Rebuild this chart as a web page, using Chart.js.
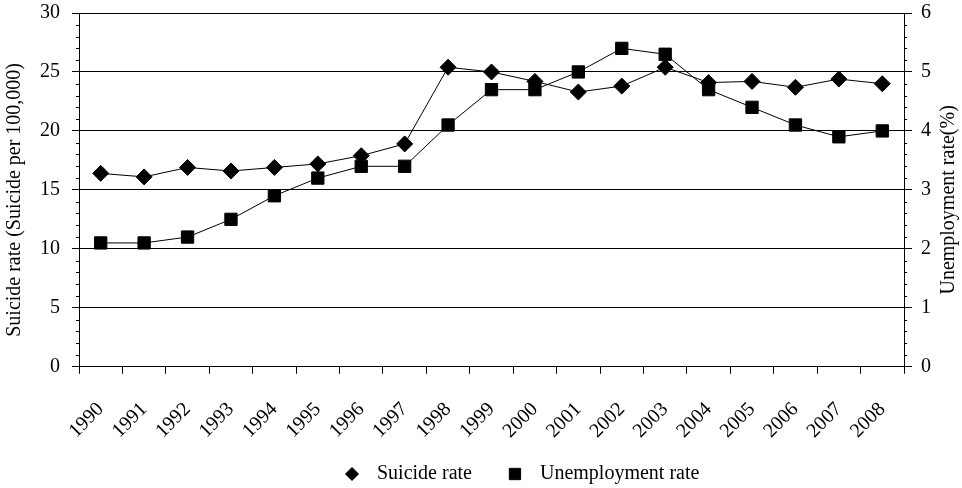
<!DOCTYPE html>
<html>
<head>
<meta charset="utf-8">
<script src="https://cdn.jsdelivr.net/npm/chart.js@4.4.1/dist/chart.umd.min.js"></script>
<style>
  html, body { margin: 0; padding: 0; background: #fff; }
  #wrap { width: 962px; height: 488px; position: relative; }
</style>
</head>
<body>
<div id="wrap"><canvas id="c"></canvas></div>
<script>
const years = ['1990','1991','1992','1993','1994','1995','1996','1997','1998','1999','2000','2001','2002','2003','2004','2005','2006','2007','2008'];
const suicideRate = [16.4, 16.1, 16.9, 16.6, 16.9, 17.2, 17.9, 18.9, 25.4, 25.0, 24.2, 23.3, 23.8, 25.4, 24.1, 24.2, 23.7, 24.4, 24.0];
const unemploymentRate = [2.1, 2.1, 2.2, 2.5, 2.9, 3.2, 3.4, 3.4, 4.1, 4.7, 4.7, 5.0, 5.4, 5.3, 4.7, 4.4, 4.1, 3.9, 4.0];
const seriesLabels = ['Suicide rate', 'Unemployment rate'];
const leftAxisTitle = 'Suicide rate (Suicide per 100,000)';
const rightAxisTitle = 'Unemployment rate(%)';

const FONT = '"Liberation Serif", "Times New Roman", serif';

const minorTicks = {
  id: 'minorTicks',
  afterDraw(chart) {
    const ctx = chart.ctx;
    const y = chart.scales.y, y1 = chart.scales.y1;
    ctx.save();
    ctx.strokeStyle = '#000';
    ctx.lineWidth = 1;
    ctx.beginPath();
    for (let v = y.min; v <= y.max; v += 1) {
      if (v % 5 === 0) continue;
      const p = Math.round(y.getPixelForValue(v)) + 0.5;
      ctx.moveTo(y.right - 3, p); ctx.lineTo(y.right, p);
    }
    for (let i = 0; i <= 30; i++) {
      if (i % 5 === 0) continue;
      const p = Math.round(y1.getPixelForValue(i * 0.2)) + 0.5;
      ctx.moveTo(y1.left, p); ctx.lineTo(y1.left + 3, p);
    }
    ctx.stroke();
    ctx.restore();
  }
};

const axisTitles = {
  id: 'axisTitles',
  afterDraw(chart) {
    const ctx = chart.ctx;
    const a = chart.chartArea;
    const cy = (a.top + a.bottom) / 2 + 10;
    ctx.save();
    ctx.font = '20px ' + FONT;
    ctx.fillStyle = '#000';
    ctx.textAlign = 'center';
    ctx.textBaseline = 'middle';
    [[15, leftAxisTitle], [chart.width - 13, rightAxisTitle]].forEach(([x, t]) => {
      ctx.save();
      ctx.translate(x, cy);
      ctx.rotate(-Math.PI / 2);
      ctx.fillText(t, 0, 0);
      ctx.restore();
    });
    ctx.restore();
  }
};

const customLegend = {
  id: 'customLegend',
  afterDraw(chart) {
    const ctx = chart.ctx;
    ctx.save();
    ctx.font = '20px ' + FONT;
    ctx.textBaseline = 'middle';
    ctx.textAlign = 'left';
    const cy = 474;
    let x = 352;
    chart.data.datasets.forEach((ds) => {
      ctx.fillStyle = '#000';
      ctx.strokeStyle = '#000';
      Chart.helpers.drawPoint(ctx, {
        pointStyle: ds.pointStyle,
        radius: ds.pointStyle === 'rectRot' ? 6.5 : 8,
        borderWidth: 1,
        rotation: 0
      }, x, cy);
      const tx = x + 25;
      ctx.fillStyle = '#000';
      ctx.fillText(ds.label, tx, cy);
      x = tx + ctx.measureText(ds.label).width + 43;
    });
    ctx.restore();
  }
};

function fixVertical(width) {
  return function (scale) {
    scale.width = width;
    scale.paddingTop = 0;
    scale.paddingBottom = 0;
  };
}

new Chart(document.getElementById('c'), {
  type: 'line',
  data: {
    labels: years,
    datasets: [
      {
        label: seriesLabels[0],
        data: suicideRate,
        yAxisID: 'y',
        borderColor: '#000',
        backgroundColor: '#000',
        borderWidth: 1,
        pointStyle: 'rectRot',
        pointRadius: 8,
        pointHoverRadius: 8,
        pointBorderWidth: 1,
        pointBackgroundColor: '#000',
        pointBorderColor: '#000',
        tension: 0
      },
      {
        label: seriesLabels[1],
        data: unemploymentRate,
        yAxisID: 'y1',
        borderColor: '#000',
        backgroundColor: '#000',
        borderWidth: 1,
        pointStyle: 'rect',
        pointRadius: 8.7,
        pointHoverRadius: 8.7,
        pointBorderWidth: 1,
        pointBackgroundColor: '#000',
        pointBorderColor: '#000',
        tension: 0
      }
    ]
  },
  options: {
    responsive: true,
    maintainAspectRatio: false,
    animation: false,
    layout: { padding: { left: 0, right: 0, top: 13, bottom: 21 } },
    plugins: {
      legend: { display: false },
      tooltip: { enabled: false }
    },
    scales: {
      x: {
        offset: true,
        grid: { display: true, drawOnChartArea: false, drawTicks: true, tickLength: 7, color: '#000', offset: true },
        border: { display: true, color: '#000', width: 1 },
        ticks: { autoSkip: false, maxRotation: 45, minRotation: 45, padding: 24, color: '#000', font: { family: FONT, size: 20 } }
      },
      y: {
        position: 'left',
        min: 0, max: 30,
        afterFit: fixVertical(79),
        ticks: { stepSize: 5, padding: 12, color: '#000', font: { family: FONT, size: 20 } },
        grid: { color: '#000', lineWidth: 1, tickLength: 7, drawTicks: true },
        border: { display: true, color: '#000', width: 1 }
      },
      y1: {
        position: 'right',
        min: 0, max: 6,
        afterFit: fixVertical(58),
        ticks: { stepSize: 1, padding: 9, color: '#000', font: { family: FONT, size: 20 } },
        grid: { drawOnChartArea: false, drawTicks: true, tickLength: 8, color: '#000' },
        border: { display: true, color: '#000', width: 1 }
      }
    }
  },
  plugins: [minorTicks, axisTitles, customLegend]
});
</script>
</body>
</html>
